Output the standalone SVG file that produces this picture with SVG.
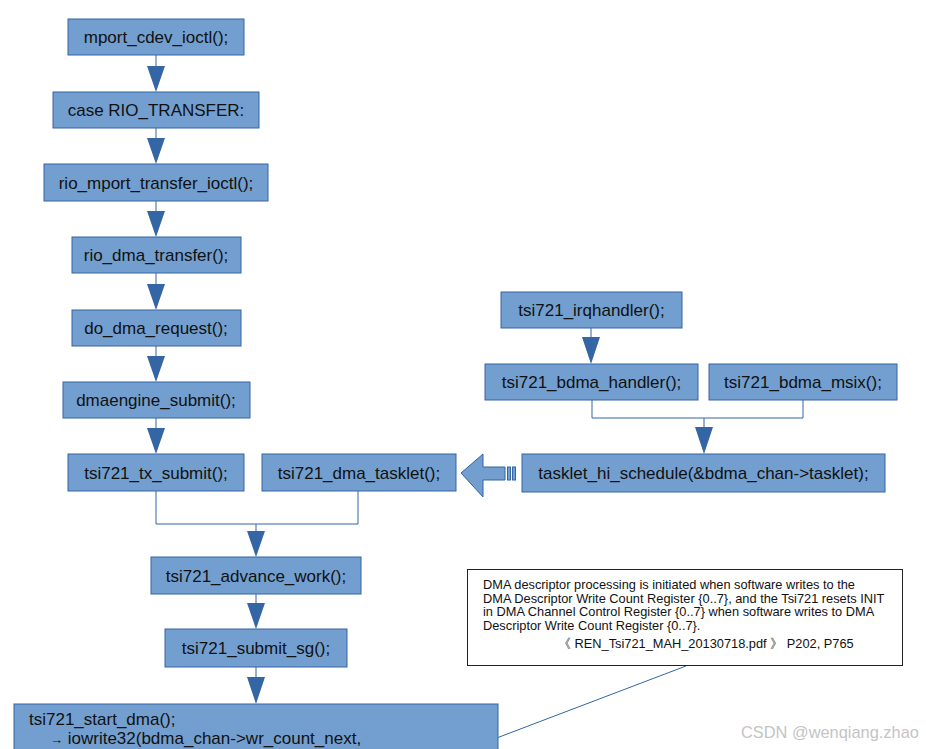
<svg xmlns="http://www.w3.org/2000/svg" width="926" height="749" viewBox="0 0 926 749">
<defs>
<style>
.box{fill:#729fcf;stroke:#3465a4;stroke-width:1}
.t{font-family:"Liberation Sans",Arial,sans-serif;font-size:17px;fill:#111;text-anchor:middle}
.tl{font-family:"Liberation Sans",Arial,sans-serif;font-size:17px;fill:#111}
.n{font-family:"Liberation Sans",Arial,sans-serif;font-size:12.8px;fill:#111}
.ln{fill:none;stroke:#3465a4;stroke-width:1}
.ah{fill:#3465a4}
</style>
</defs>
<rect width="926" height="749" fill="#fff"/>
<g id="connectors">
<path class="ln" d="M156 55V66M156 128V138M156 201V211M156 273V284M156 346V356M156 418V428"/>
<polygon class="ah" points="147,66 165,66 156,92"/>
<polygon class="ah" points="147,138 165,138 156,164"/>
<polygon class="ah" points="147,211 165,211 156,237"/>
<polygon class="ah" points="147,284 165,284 156,310"/>
<polygon class="ah" points="147,356 165,356 156,382"/>
<polygon class="ah" points="147,428 165,428 156,454"/>
<path class="ln" d="M156 491V524H358V491M256 524V531"/>
<polygon class="ah" points="247,531 265,531 256,557"/>
<path class="ln" d="M256 594V603"/>
<polygon class="ah" points="247,603 265,603 256,629"/>
<path class="ln" d="M256 667V677"/>
<polygon class="ah" points="247,677 265,677 256,704"/>
<path class="ln" d="M591 328V337"/>
<polygon class="ah" points="582,337 600,337 591,364"/>
<path class="ln" d="M592 400V418H803V400M704 418V427"/>
<polygon class="ah" points="695,427 713,427 704,454"/>
<polygon points="461,473 483,454 483,467 505,467 505,480 483,480 483,497" fill="#729fcf" stroke="#3465a4" stroke-width="1"/>
<rect x="507.5" y="467" width="3" height="13" fill="#729fcf" stroke="#3465a4" stroke-width="1"/>
<rect x="512.5" y="467" width="3" height="13" fill="#729fcf" stroke="#3465a4" stroke-width="1"/>
<path d="M498 737.5L686 666" fill="none" stroke="#3465a4" stroke-width="1"/>
</g>
<g id="n1"><rect class="box" x="68" y="19" width="176" height="36"/><text class="t" x="156" y="43">mport_cdev_ioctl();</text></g>
<g id="n2"><rect class="box" x="53" y="92" width="206" height="36"/><text class="t" x="156" y="116">case RIO_TRANSFER:</text></g>
<g id="n3"><rect class="box" x="44" y="164" width="224" height="37"/><text class="t" x="156" y="188.5">rio_mport_transfer_ioctl();</text></g>
<g id="n4"><rect class="box" x="72" y="237" width="169" height="36"/><text class="t" x="156" y="261">rio_dma_transfer();</text></g>
<g id="n5"><rect class="box" x="72" y="310" width="169" height="36"/><text class="t" x="156" y="334">do_dma_request();</text></g>
<g id="n6"><rect class="box" x="63" y="382" width="187" height="36"/><text class="t" x="156" y="406">dmaengine_submit();</text></g>
<g id="n7"><rect class="box" x="68" y="454" width="176" height="37"/><text class="t" x="156" y="478.5">tsi721_tx_submit();</text></g>
<g id="n8"><rect class="box" x="262" y="454" width="194" height="37"/><text class="t" x="359" y="478.5">tsi721_dma_tasklet();</text></g>
<g id="n9"><rect class="box" x="151" y="557" width="210" height="37"/><text class="t" x="256" y="581.5">tsi721_advance_work();</text></g>
<g id="n10"><rect class="box" x="165" y="629" width="182" height="38"/><text class="t" x="256" y="654">tsi721_submit_sg();</text></g>
<g id="n11"><rect class="box" x="14" y="704" width="484" height="60"/><text class="tl" x="29" y="725">tsi721_start_dma();</text><text class="tl" x="50" y="744"><tspan font-size="13">→</tspan> iowrite32(bdma_chan-&gt;wr_count_next,</text></g>
<g id="n12"><rect class="box" x="501" y="292" width="181" height="36"/><text class="t" x="591.5" y="316">tsi721_irqhandler();</text></g>
<g id="n13"><rect class="box" x="485" y="364" width="213" height="36"/><text class="t" x="591.5" y="388">tsi721_bdma_handler();</text></g>
<g id="n14"><rect class="box" x="709" y="364" width="188" height="36"/><text class="t" x="803" y="388">tsi721_bdma_msix();</text></g>
<g id="n15"><rect class="box" x="522" y="454" width="363" height="38"/><text class="t" x="703.5" y="479">tasklet_hi_schedule(&amp;bdma_chan-&gt;tasklet);</text></g>
<g id="note"><rect x="467.5" y="569.5" width="435" height="96" fill="#fff" stroke="#222" stroke-width="1"/>
<text class="n" x="483" y="589">DMA descriptor processing is initiated when software writes to the</text>
<text class="n" x="483" y="602.5">DMA Descriptor Write Count Register {0..7}, and the Tsi721 resets INIT</text>
<text class="n" x="483" y="616">in DMA Channel Control Register {0..7} when software writes to DMA</text>
<text class="n" x="483" y="630">Descriptor Write Count Register {0..7}.</text>
<text class="n" x="558" y="648" font-family="'Liberation Sans','Noto Sans CJK SC',sans-serif">《 REN_Tsi721_MAH_20130718.pdf 》  P202, P765</text>
</g>
<text x="741" y="738" font-family="'Liberation Sans',Arial,sans-serif" font-size="16.4" fill="#c4c4c4">CSDN @wenqiang.zhao</text>
</svg>
